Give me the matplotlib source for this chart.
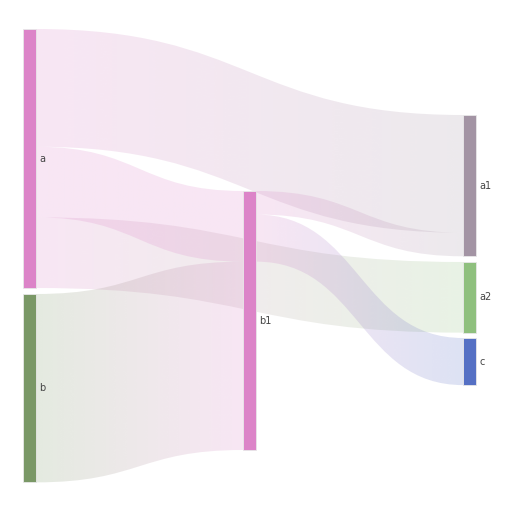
import matplotlib
matplotlib.use('Agg')
import matplotlib.pyplot as plt
from matplotlib.path import Path
from matplotlib.patches import PathPatch
import numpy as np

# Данные
nodes = ['a', 'b', 'a1', 'a2', 'b1', 'c']
node_colors = ['#dc84c8', '#7a9866', '#a394a4', '#8fc07e', '#dc84c8', '#5570c4']
src = ['a', 'a', 'b', 'a', 'b1', 'b1']
tgt = ['a1', 'a2', 'b1', 'b1', 'a1', 'c']
val = [5, 3, 8, 3, 1, 2]

# Раскладка (пиксели)
col_x = {'a': 23, 'b': 23, 'b1': 243, 'a1': 463, 'a2': 463, 'c': 463}
node_top = {'a': 29, 'b': 294, 'b1': 191, 'a1': 115, 'a2': 262, 'c': 338}
node_w = 13
scale = 259 / 11

color = dict(zip(nodes, node_colors))

fig = plt.figure(figsize=(5.12, 5.12), dpi=100)
ax = fig.add_axes([0, 0, 1, 1])
ax.set_xlim(0, 512)
ax.set_ylim(512, 0)
ax.axis('off')

# offsets for stacking links
out_off = {n: 0.0 for n in nodes}
in_off = {n: 0.0 for n in nodes}

# sort outgoing by target top, incoming by source top
order_out = sorted(range(len(val)), key=lambda i: (nodes.index(src[i]), node_top[tgt[i]]))
seg_src = {}
for i in order_out:
    s = src[i]
    seg_src[i] = node_top[s] + out_off[s]
    out_off[s] += val[i] * scale
order_in = sorted(range(len(val)), key=lambda i: (nodes.index(tgt[i]), node_top[src[i]]))
seg_tgt = {}
for i in order_in:
    t = tgt[i]
    seg_tgt[i] = node_top[t] + in_off[t]
    in_off[t] += val[i] * scale

from matplotlib.colors import to_rgb
for i in range(len(val)):
    h = val[i] * scale
    x0 = col_x[src[i]] + node_w
    x1 = col_x[tgt[i]]
    y0 = seg_src[i]
    y1 = seg_tgt[i]
    xm = (x0 + x1) / 2
    verts = [(x0, y0), (xm, y0), (xm, y1), (x1, y1),
             (x1, y1 + h), (xm, y1 + h), (xm, y0 + h), (x0, y0 + h), (x0, y0)]
    codes = [Path.MOVETO, Path.CURVE4, Path.CURVE4, Path.CURVE4,
             Path.LINETO, Path.CURVE4, Path.CURVE4, Path.CURVE4, Path.CLOSEPOLY]
    patch = PathPatch(Path(verts, codes), facecolor='none', edgecolor='none')
    ax.add_patch(patch)
    c0 = np.array(to_rgb(color[src[i]]))
    c1 = np.array(to_rgb(color[tgt[i]]))
    tt = np.linspace(0, 1, 200)[:, None]
    grad = np.ones((1, 200, 4))
    grad[0, :, :3] = c0 * (1 - tt) + c1 * tt
    grad[0, :, 3] = 0.2
    ymin = min(y0, y1) - 1
    ymax = max(y0, y1) + h + 1
    im = ax.imshow(grad, extent=(x0, x1, ymax, ymin), aspect='auto',
                   interpolation='bilinear', zorder=1)
    im.set_clip_path(patch)

for n in nodes:
    h = (out_off[n] if out_off[n] > 0 else in_off[n])
    h = max(out_off[n], in_off[n])
    ax.add_patch(plt.Rectangle((col_x[n], node_top[n]), node_w, h,
                               facecolor=color[n], edgecolor='#e8e8e8',
                               linewidth=0.6, zorder=3))
    ax.text(col_x[n] + node_w + 3, node_top[n] + h / 2, n, fontsize=7,
            color='#444444', va='center', ha='left', zorder=4)

ax.set_xlim(0, 512)
ax.set_ylim(512, 0)
fig.savefig('out.png', dpi=100)
